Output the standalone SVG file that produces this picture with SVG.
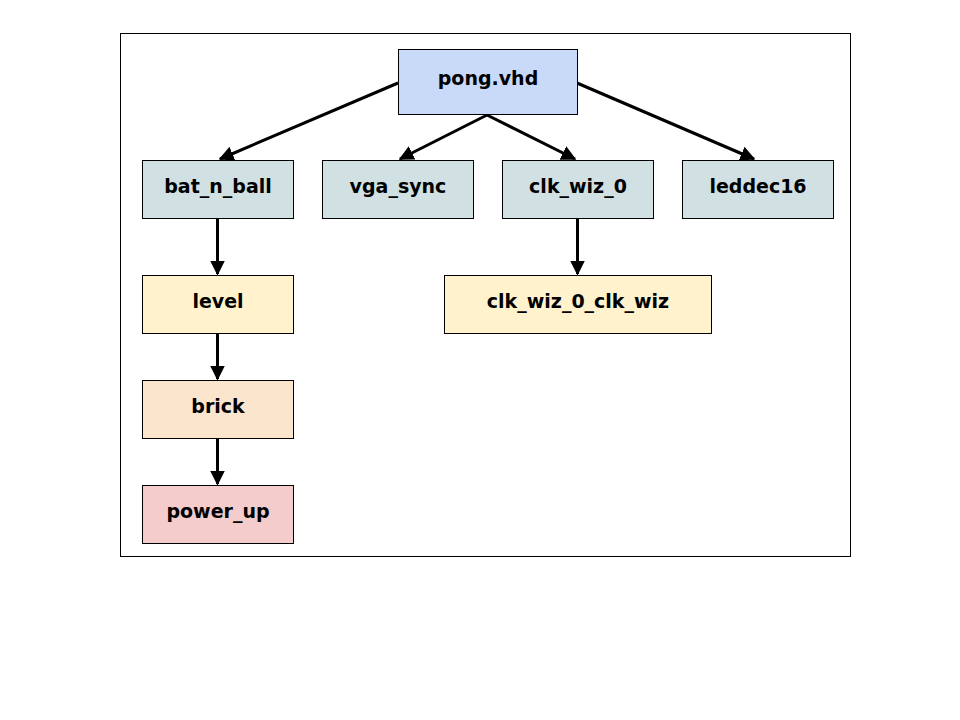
<svg xmlns="http://www.w3.org/2000/svg" width="960" height="720" viewBox="0 0 960 720">
<defs>
<style>
.n{stroke:#000;stroke-width:1}
.t{font-family:"Comic Sans MS","DejaVu Sans",sans-serif;font-weight:bold;font-size:19px;text-anchor:middle;fill:#000}
.e{stroke:#000;stroke-width:3;fill:none;marker-end:url(#ah)}
</style>
<marker id="ah" markerWidth="5" markerHeight="5" refX="4.5" refY="2.5" orient="auto" markerUnits="strokeWidth" viewBox="0 0 5 5">
<path d="M0,0 L5,2.5 L0,5 Z" fill="#000"/>
</marker>
</defs>
<rect width="960" height="720" fill="#fff"/>
<rect x="120.5" y="33.5" width="730" height="523" fill="none" stroke="#000" stroke-width="1"/>
<g id="edges">
<line class="e" x1="398" y1="83" x2="220" y2="159"/>
<line class="e" x1="487" y1="115" x2="400" y2="159"/>
<line class="e" x1="487" y1="115" x2="575" y2="159"/>
<line class="e" x1="577" y1="83" x2="754" y2="159"/>
<line class="e" x1="217.5" y1="218" x2="217.5" y2="274"/>
<line class="e" x1="577.5" y1="218" x2="577.5" y2="274"/>
<line class="e" x1="217.5" y1="333" x2="217.5" y2="379"/>
<line class="e" x1="217.5" y1="438" x2="217.5" y2="484"/>
</g>
<g id="pong"><rect class="n" x="398.5" y="49.5" width="179" height="65" fill="#c9daf8"/><text class="t" x="488" y="85">pong.vhd</text></g>
<g id="bat_n_ball"><rect class="n" x="142.5" y="160.5" width="151" height="58" fill="#d0e0e3"/><text class="t" x="218" y="193">bat_n_ball</text></g>
<g id="vga_sync"><rect class="n" x="322.5" y="160.5" width="151" height="58" fill="#d0e0e3"/><text class="t" x="398" y="193">vga_sync</text></g>
<g id="clk_wiz_0"><rect class="n" x="502.5" y="160.5" width="151" height="58" fill="#d0e0e3"/><text class="t" x="578" y="193">clk_wiz_0</text></g>
<g id="leddec16"><rect class="n" x="682.5" y="160.5" width="151" height="58" fill="#d0e0e3"/><text class="t" x="758" y="193">leddec16</text></g>
<g id="clk_wiz_0_clk_wiz"><rect class="n" x="444.5" y="275.5" width="267" height="58" fill="#fff2cc"/><text class="t" x="578" y="308">clk_wiz_0_clk_wiz</text></g>
<g id="level"><rect class="n" x="142.5" y="275.5" width="151" height="58" fill="#fff2cc"/><text class="t" x="218" y="308">level</text></g>
<g id="brick"><rect class="n" x="142.5" y="380.5" width="151" height="58" fill="#fce5cd"/><text class="t" x="218" y="413">brick</text></g>
<g id="power_up"><rect class="n" x="142.5" y="485.5" width="151" height="58" fill="#f4cccc"/><text class="t" x="218" y="518">power_up</text></g>
</svg>
